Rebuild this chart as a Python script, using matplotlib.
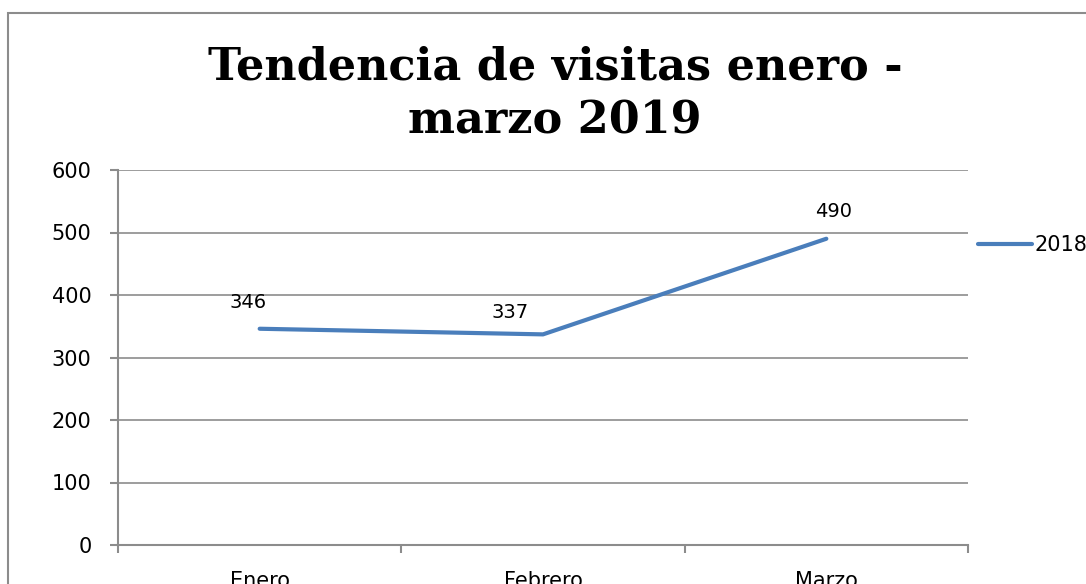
import numpy as np
import matplotlib.pyplot as plt
from matplotlib.patches import Rectangle

meses = ["Enero", "Febrero", "Marzo"]
visitas = [346, 337, 490]
serie = "2018"
y_ticks = [0, 100, 200, 300, 400, 500, 600]

W, H = 1086, 584
fig = plt.figure(figsize=(W / 100, H / 100), dpi=100)

# marco del grafico (recortado a la derecha y abajo)
fig.patches.append(Rectangle((8 / W, -0.1), 1.2, (H - 13) / H + 0.1,
                             transform=fig.transFigure, fill=False,
                             edgecolor="#8c8c8c", linewidth=1.5))

ax = fig.add_axes([118 / W, (H - 545) / H, 850 / W, 375 / H])

x = np.arange(len(meses))
ax.plot(x, visitas, color="#4a7ebb", linewidth=3, solid_capstyle="round",
        label=serie)
ax.set_xlim(-0.5, len(meses) - 0.5)
ax.set_ylim(0, 600)
ax.set_yticks(y_ticks)
ax.grid(axis="y", color="#8c8c8c", linewidth=1.2)
ax.set_axisbelow(True)

ax.set_xticks(x)
ax.set_xticklabels(meses)
ax.tick_params(axis="x", length=0, pad=19, labelsize=15)
ax.set_xticks(np.arange(len(meses) + 1) - 0.5, minor=True)
ax.tick_params(axis="x", which="minor", length=6, width=1.5, color="#8c8c8c")
ax.tick_params(axis="y", length=6, width=1.5, color="#8c8c8c", labelsize=15, pad=13)

for s in ["top", "right"]:
    ax.spines[s].set_visible(False)
for s in ["left", "bottom"]:
    ax.spines[s].set_color("#8c8c8c")
    ax.spines[s].set_linewidth(1.5)

offsets = [(-8, 12), (-24, 9), (5, 13)]
for xi, v, off in zip(x, visitas, offsets):
    ax.annotate(str(v), (xi, v), xytext=off, textcoords="offset points",
                ha="center", va="bottom", fontsize=14)

ax.legend(loc="center left", bbox_to_anchor=(0.99, 0.8), frameon=False,
          fontsize=15, handlelength=2.6, handletextpad=0.1)

fig.text(555 / W, (H - 94) / H, "Tendencia de visitas enero -\nmarzo 2019",
         ha="center", va="center", family="DejaVu Serif", fontweight="bold",
         fontsize=32, linespacing=1.3)

fig.savefig("out.png", dpi=100)
